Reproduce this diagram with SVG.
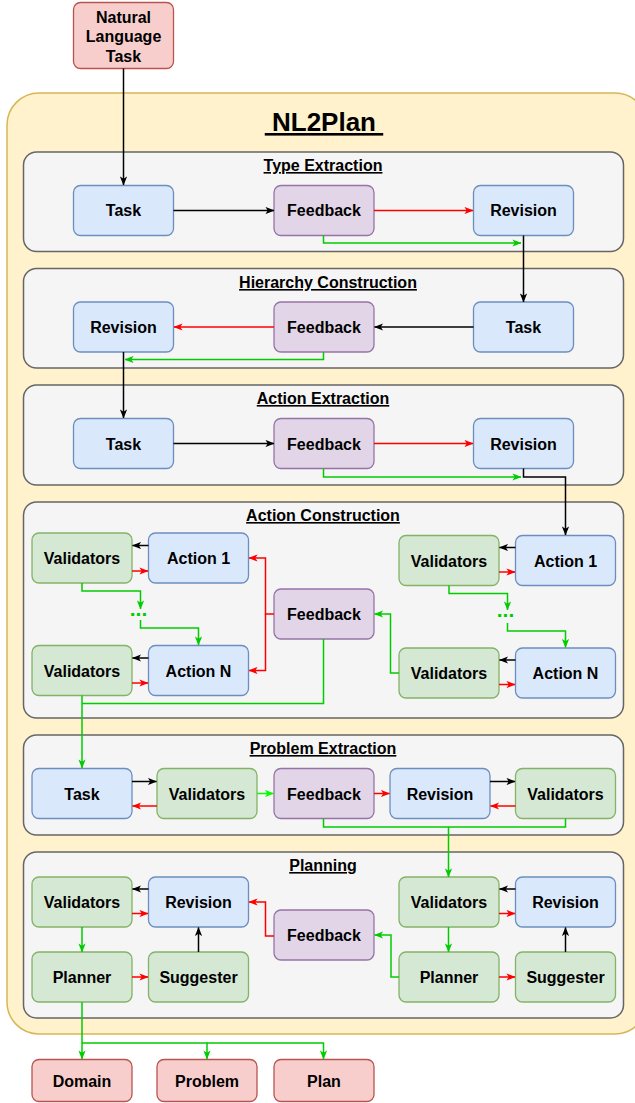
<svg xmlns="http://www.w3.org/2000/svg" width="635" height="1103" viewBox="0 0 635 1103">
<style>
text{font-family:"Liberation Sans",Arial,sans-serif;font-weight:bold;font-size:16px;text-anchor:middle;fill:#000}
.title{text-decoration:underline}
.big{font-size:26px}
.box rect{stroke-width:1.3}
.out rect{fill:#f8cecc;stroke:#b85450}
.blue rect{fill:#dae8fc;stroke:#6c8ebf}
.purple rect{fill:#e1d5e7;stroke:#9673a6}
.green rect{fill:#d5e8d4;stroke:#82b366}
.sec{fill:#f5f5f5;stroke:#666666;stroke-width:1.5}
.edges path{fill:none;stroke-width:1.5}
.k{stroke:#000;marker-end:url(#ak)}
.r{stroke:#ff0000;marker-end:url(#ar)}
.g{stroke:#00cc00;marker-end:url(#ag)}
.gl{stroke:#00ff00;marker-end:url(#agl)}
.gn{stroke:#00cc00}
.dots{fill:#00cc00;font-size:21px}
</style>
<defs>
<marker id="ak" viewBox="0 0 10 8" markerWidth="9" markerHeight="7.5" refX="9.5" refY="4" orient="auto" markerUnits="userSpaceOnUse"><path d="M0,0 L10,4 L0,8 L2.5,4 z" fill="#000"/></marker>
<marker id="ar" viewBox="0 0 10 8" markerWidth="9" markerHeight="7.5" refX="9.5" refY="4" orient="auto" markerUnits="userSpaceOnUse"><path d="M0,0 L10,4 L0,8 L2.5,4 z" fill="#ff0000"/></marker>
<marker id="ag" viewBox="0 0 10 8" markerWidth="9" markerHeight="7.5" refX="9.5" refY="4" orient="auto" markerUnits="userSpaceOnUse"><path d="M0,0 L10,4 L0,8 L2.5,4 z" fill="#00cc00"/></marker>
<marker id="agl" viewBox="0 0 10 8" markerWidth="9" markerHeight="7.5" refX="9.5" refY="4" orient="auto" markerUnits="userSpaceOnUse"><path d="M0,0 L10,4 L0,8 L2.5,4 z" fill="#00ff00"/></marker>
</defs>

<!-- outer container -->
<g id="nl2plan">
<rect x="7" y="93" width="640" height="941" rx="32" fill="#fff2cc" stroke="#d6b656" stroke-width="1.5"/>
<text class="big title" x="324" y="131" xml:space="preserve"> NL2Plan </text>
</g>

<g id="sec-type"><rect class="sec" x="23.5" y="152" width="600" height="99.5" rx="13"/><text class="title" x="323" y="171">Type Extraction</text></g>
<g id="sec-hier"><rect class="sec" x="23.5" y="268.5" width="600" height="99.5" rx="13"/><text class="title" x="328" y="288">Hierarchy Construction</text></g>
<g id="sec-ae"><rect class="sec" x="23.5" y="385" width="600" height="100" rx="13"/><text class="title" x="323" y="404">Action Extraction</text></g>
<g id="sec-ac"><rect class="sec" x="23.5" y="502" width="600" height="216" rx="13"/><text class="title" x="323" y="521">Action Construction</text></g>
<g id="sec-pe"><rect class="sec" x="23.5" y="735" width="600" height="100" rx="13"/><text class="title" x="323" y="754">Problem Extraction</text></g>
<g id="sec-plan"><rect class="sec" x="23.5" y="852" width="600" height="166" rx="13"/><text class="title" x="323" y="871">Planning</text></g>

<!-- nodes -->
<g id="nl-task" class="box out"><rect x="73.5" y="2.5" width="100" height="66" rx="7"/><text x="123.5" y="22.5">Natural</text><text x="123.5" y="42">Language</text><text x="123.5" y="61.5">Task</text></g>

<g id="te-task" class="box blue"><rect x="73.5" y="185.5" width="100" height="50" rx="7"/><text x="123.5" y="216">Task</text></g>
<g id="te-feedback" class="box purple"><rect x="274" y="185.5" width="100" height="50" rx="7"/><text x="324" y="216">Feedback</text></g>
<g id="te-revision" class="box blue"><rect x="473.5" y="185.5" width="100" height="50" rx="7"/><text x="523.5" y="216">Revision</text></g>

<g id="hc-revision" class="box blue"><rect x="73.5" y="302" width="100" height="50" rx="7"/><text x="123.5" y="333">Revision</text></g>
<g id="hc-feedback" class="box purple"><rect x="274" y="302" width="100" height="50" rx="7"/><text x="324" y="333">Feedback</text></g>
<g id="hc-task" class="box blue"><rect x="473.5" y="302" width="100" height="50" rx="7"/><text x="523.5" y="333">Task</text></g>

<g id="ae-task" class="box blue"><rect x="73.5" y="418.5" width="100" height="50" rx="7"/><text x="123.5" y="449.5">Task</text></g>
<g id="ae-feedback" class="box purple"><rect x="274" y="418.5" width="100" height="50" rx="7"/><text x="324" y="449.5">Feedback</text></g>
<g id="ae-revision" class="box blue"><rect x="473.5" y="418.5" width="100" height="50" rx="7"/><text x="523.5" y="449.5">Revision</text></g>

<g id="ac-val1-l" class="box green"><rect x="32" y="533" width="100" height="50" rx="7"/><text x="82" y="564">Validators</text></g>
<g id="ac-act1-l" class="box blue"><rect x="148.5" y="533" width="100" height="50" rx="7"/><text x="198.5" y="564">Action 1</text></g>
<g id="ac-valn-l" class="box green"><rect x="32" y="645.5" width="100" height="50" rx="7"/><text x="82" y="676.5">Validators</text></g>
<g id="ac-actn-l" class="box blue"><rect x="148.5" y="645.5" width="100" height="50" rx="7"/><text x="198.5" y="676.5">Action N</text></g>
<g id="ac-feedback" class="box purple"><rect x="274" y="589" width="100" height="50" rx="7"/><text x="324" y="620">Feedback</text></g>
<g id="ac-val1-r" class="box green"><rect x="399" y="535.5" width="100" height="50" rx="7"/><text x="449" y="566.5">Validators</text></g>
<g id="ac-act1-r" class="box blue"><rect x="515.5" y="535.5" width="100" height="50" rx="7"/><text x="565.5" y="566.5">Action 1</text></g>
<g id="ac-valn-r" class="box green"><rect x="399" y="648" width="100" height="50" rx="7"/><text x="449" y="679">Validators</text></g>
<g id="ac-actn-r" class="box blue"><rect x="515.5" y="648" width="100" height="50" rx="7"/><text x="565.5" y="679">Action N</text></g>
<g id="ac-dots-l"><text class="dots" x="138.5" y="615.5">...</text></g>
<g id="ac-dots-r"><text class="dots" x="505.5" y="617">...</text></g>

<g id="pe-task" class="box blue"><rect x="32" y="768.5" width="100" height="50" rx="7"/><text x="82" y="799.5">Task</text></g>
<g id="pe-val1" class="box green"><rect x="157" y="768.5" width="100" height="50" rx="7"/><text x="207" y="799.5">Validators</text></g>
<g id="pe-feedback" class="box purple"><rect x="274" y="768.5" width="100" height="50" rx="7"/><text x="324" y="799.5">Feedback</text></g>
<g id="pe-revision" class="box blue"><rect x="390" y="768.5" width="100" height="50" rx="7"/><text x="440" y="799.5">Revision</text></g>
<g id="pe-val2" class="box green"><rect x="515.5" y="768.5" width="100" height="50" rx="7"/><text x="565.5" y="799.5">Validators</text></g>

<g id="pl-val-l" class="box green"><rect x="32" y="877" width="100" height="50" rx="7"/><text x="82" y="908">Validators</text></g>
<g id="pl-rev-l" class="box blue"><rect x="148.5" y="877" width="100" height="50" rx="7"/><text x="198.5" y="908">Revision</text></g>
<g id="pl-plan-l" class="box green"><rect x="32" y="952" width="100" height="50" rx="7"/><text x="82" y="983">Planner</text></g>
<g id="pl-sug-l" class="box green"><rect x="148.5" y="952" width="100" height="50" rx="7"/><text x="198.5" y="983">Suggester</text></g>
<g id="pl-feedback" class="box purple"><rect x="274" y="910" width="100" height="50" rx="7"/><text x="324" y="941">Feedback</text></g>
<g id="pl-val-r" class="box green"><rect x="399" y="877" width="100" height="50" rx="7"/><text x="449" y="908">Validators</text></g>
<g id="pl-rev-r" class="box blue"><rect x="515.5" y="877" width="100" height="50" rx="7"/><text x="565.5" y="908">Revision</text></g>
<g id="pl-plan-r" class="box green"><rect x="399" y="952" width="100" height="50" rx="7"/><text x="449" y="983">Planner</text></g>
<g id="pl-sug-r" class="box green"><rect x="515.5" y="952" width="100" height="50" rx="7"/><text x="565.5" y="983">Suggester</text></g>

<g id="out-domain" class="box out"><rect x="32" y="1059.5" width="100" height="42" rx="7"/><text x="82" y="1086.5">Domain</text></g>
<g id="out-problem" class="box out"><rect x="157" y="1059.5" width="100" height="42" rx="7"/><text x="207" y="1086.5">Problem</text></g>
<g id="out-plan" class="box out"><rect x="274" y="1059.5" width="100" height="42" rx="7"/><text x="324" y="1086.5">Plan</text></g>

<!-- connectors -->
<g id="connectors" class="edges">
<path class="k" d="M123.5,68.5 V185"/>
<path class="k" d="M173.5,210.5 H274"/>
<path class="r" d="M374,210.5 H473"/>
<path class="g" d="M323.5,235.5 V243 H521"/>
<path class="k" d="M523.5,235.5 V302"/>
<path class="k" d="M473.5,327 H374.5"/>
<path class="r" d="M274,327 H174"/>
<path class="g" d="M323.5,352 V359.5 H125"/>
<path class="k" d="M123.5,352 V418"/>
<path class="k" d="M173.5,443.5 H274"/>
<path class="r" d="M374,443.5 H473"/>
<path class="g" d="M323.5,468.5 V477 H521"/>
<path class="k" d="M523.5,468.5 V477 H565.5 V535"/>

<path class="k" d="M148.5,545.5 H132.5"/>
<path class="r" d="M132,571 H148"/>
<path class="g" d="M82,583 V591 H140.5 V609"/>
<path class="g" d="M140.5,620 V628 H198.5 V645"/>
<path class="k" d="M148.5,658 H132.5"/>
<path class="r" d="M132,683 H148"/>
<path class="r" d="M274,614 H265.5 V558 H249"/>
<path class="r" d="M265.5,614 V670.5 H249"/>
<path class="gn" d="M323.5,639 V703.5 H82"/>
<path class="g" d="M82,695.5 V768"/>

<path class="k" d="M515.5,547.5 H499.5"/>
<path class="r" d="M499,572 H515"/>
<path class="g" d="M449,585.5 V593.5 H507.5 V610"/>
<path class="g" d="M507.5,623 V631 H565.5 V647.5"/>
<path class="k" d="M515.5,660 H499.5"/>
<path class="r" d="M499,684.5 H515"/>
<path class="g" d="M399,673 H390.5 V614 H374.5"/>

<path class="k" d="M132,781.5 H156.5"/>
<path class="r" d="M157,806 H132.5"/>
<path class="gl" d="M257,793.5 H273.5"/>
<path class="r" d="M374,793.5 H389.5"/>
<path class="k" d="M490,781.5 H515"/>
<path class="r" d="M515.5,806 H490.5"/>
<path class="gn" d="M323.5,818.5 V827 H565.5 V818.5"/>
<path class="g" d="M448.5,827 V877"/>

<path class="k" d="M148.5,889 H132.5"/>
<path class="r" d="M132,913.5 H148"/>
<path class="g" d="M82,927 V952"/>
<path class="r" d="M132,977 H148"/>
<path class="k" d="M198.5,952 V927.5"/>
<path class="r" d="M274,936 H265.5 V902 H249"/>

<path class="k" d="M515.5,889 H499.5"/>
<path class="r" d="M499,913.5 H515"/>
<path class="g" d="M448.5,927 V952"/>
<path class="r" d="M499,977 H515"/>
<path class="k" d="M565.5,952 V927.5"/>
<path class="g" d="M399,977 H391 V935 H374.5"/>

<path class="g" d="M82,1002 V1059"/>
<path class="g" d="M82,1043 H207 V1059"/>
<path class="g" d="M207,1043 H323.5 V1059"/>
</g>
</svg>
